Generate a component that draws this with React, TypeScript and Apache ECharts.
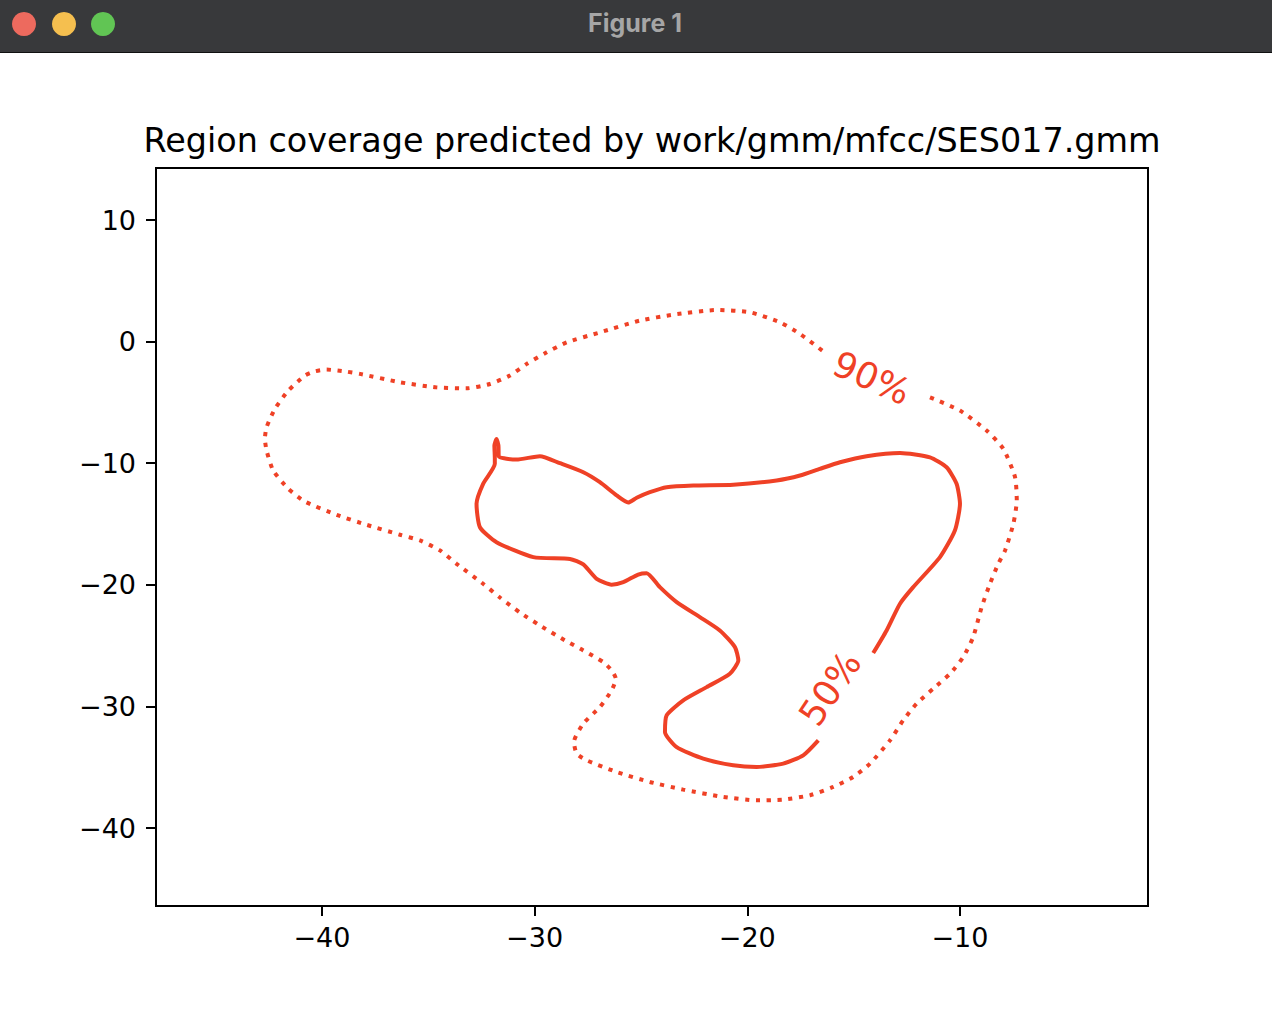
import { useEffect, useRef } from 'react';
import * as echarts from 'echarts';

// contour lines, in data units [x, y]
// 90% level (dotted), open at its label
const contour90: [number, number][] = [
  [-11.41, -4.58], [-10.0, -5.67], [-8.75, -7.31], [-7.96, -8.82], [-7.41, -11.15],
  [-7.33, -13.07], [-7.49, -14.98], [-7.88, -17.17], [-8.2, -18.27], [-8.59, -19.91],
  [-8.98, -21.83], [-9.38, -24.3], [-9.85, -25.94], [-10.47, -27.31], [-11.26, -28.54],
  [-12.04, -29.77], [-12.67, -31.14], [-13.29, -32.79], [-14.23, -34.7], [-15.02, -35.8],
  [-15.96, -36.62], [-17.05, -37.3], [-18.31, -37.66], [-19.56, -37.72], [-21.13, -37.44],
  [-23.01, -36.84], [-24.58, -36.21], [-26.14, -35.39], [-27.55, -34.43], [-28.02, -33.88],
  [-28.15, -32.93], [-27.71, -31.41], [-26.93, -30.05], [-26.38, -28.68], [-26.18, -27.72],
  [-26.38, -27.03], [-26.77, -26.35], [-27.71, -25.39], [-28.57, -24.57], [-29.75, -23.34],
  [-30.69, -22.27], [-31.63, -21.04], [-32.42, -19.91], [-33.67, -18.27], [-34.45, -17.17],
  [-35.39, -16.35], [-36.33, -15.88], [-37.9, -15.06], [-39.31, -14.24], [-40.8, -13.15],
  [-41.58, -12.1], [-42.29, -10.6], [-42.6, -8.96], [-42.68, -7.97], [-42.6, -7.04],
  [-42.21, -5.53], [-41.58, -4.03], [-40.8, -2.79], [-40.33, -2.44], [-39.78, -2.3],
  [-38.84, -2.47], [-38.21, -2.65], [-36.33, -3.34], [-34.61, -3.76], [-33.2, -3.84],
  [-32.1, -3.48], [-31.16, -2.79], [-30.37, -1.83], [-29.43, -0.88], [-28.49, -0.06],
  [-26.93, 0.76], [-25.05, 1.73], [-23.48, 2.22], [-21.44, 2.6], [-19.87, 2.41],
  [-18.46, 1.59], [-17.52, 0.63], [-16.27, -1.01],
];

// 50% level (solid), open at its label
const contour50: [number, number][] = [
  [-14.08, -25.61], [-13.45, -23.75], [-12.82, -21.55], [-12.21, -20.21], [-10.94, -17.72],
  [-10.24, -15.53], [-10.0, -13.34], [-10.16, -11.69], [-10.63, -10.33], [-11.41, -9.51],
  [-12.82, -9.15], [-14.39, -9.42], [-15.64, -9.92], [-16.59, -10.46], [-17.52, -11.01],
  [-18.62, -11.42], [-20.66, -11.77], [-22.54, -11.83], [-23.79, -11.97], [-24.58, -12.38],
  [-25.2, -12.84], [-25.6, -13.23], [-26.14, -12.65], [-26.93, -11.56], [-27.71, -10.74],
  [-28.81, -10.0], [-29.75, -9.42], [-30.85, -9.7], [-31.68, -9.45], [-31.7, -8.55],
  [-31.79, -8.01], [-31.89, -8.55], [-31.87, -9.61], [-31.87, -10.05], [-32.42, -11.69],
  [-32.73, -13.34], [-32.57, -15.26], [-31.79, -16.49], [-30.06, -17.72], [-28.34, -17.87],
  [-27.71, -18.32], [-27.08, -19.5], [-26.38, -19.99], [-25.83, -19.78], [-25.13, -19.15],
  [-24.73, -19.04], [-24.11, -20.19], [-23.32, -21.42], [-22.23, -22.65], [-21.29, -23.75],
  [-20.58, -25.12], [-20.42, -26.21], [-20.82, -27.31], [-21.91, -28.41], [-23.01, -29.5],
  [-23.79, -30.73], [-23.87, -32.1], [-23.32, -33.34], [-22.07, -34.29], [-20.66, -34.84],
  [-19.56, -34.98], [-18.31, -34.7], [-17.37, -34.02], [-16.66, -32.79],
];

// inline contour labels: position, text, rotation (deg)
const labelPos: [number, number][] = [[-14.15, -2.98], [-16.11, -28.54]];
const labelText = ['90%', '50%'];
const labelRotate = [-24, 56];

const xTicks = [-40, -30, -20, -10];
const yTicks = [10, 0, -10, -20, -30, -40];

const TITLE = 'Region coverage predicted by work/gmm/mfcc/SES017.gmm';
const RED = '#ef4126';
const FONT = '"DejaVu Sans", sans-serif';

const fmt = (v: number) => String(v).replace('-', '\u2212');

export default function App() {
  const chartRef = useRef<HTMLDivElement>(null);

  useEffect(() => {
    document.body.style.margin = '0';
    document.body.style.overflow = 'hidden';
    if (!chartRef.current) return;
    const chart = echarts.init(chartRef.current, undefined, { renderer: 'svg' });

    const axisCommon = {
      type: 'value' as const,
      axisLine: { show: false, onZero: false },
      splitLine: { show: false },
      axisTick: { show: true, length: 10, lineStyle: { color: '#000', width: 2 } },
      axisLabel: {
        color: '#000',
        fontFamily: FONT,
        fontSize: 27,
        formatter: fmt,
      },
    };

    const option: echarts.EChartsOption = {
      animation: false,
      backgroundColor: '#fff',
      grid: {
        left: 156,
        top: 168,
        width: 992,
        height: 738,
        show: true,
        borderColor: '#000',
        borderWidth: 2,
        containLabel: false,
      },
      xAxis: {
        ...axisCommon,
        min: -47.8,
        max: -1.16,
        axisTick: { ...axisCommon.axisTick, customValues: xTicks },
        axisLabel: { ...axisCommon.axisLabel, margin: 18, customValues: xTicks },
      } as any,
      yAxis: {
        ...axisCommon,
        min: -46.41,
        max: 14.28,
        axisTick: { ...axisCommon.axisTick, customValues: yTicks },
        axisLabel: { ...axisCommon.axisLabel, margin: 20, customValues: yTicks },
      } as any,
      graphic: [
        // window title bar
        { type: 'rect', shape: { x: 0, y: 0, width: 1272, height: 52 }, style: { fill: '#38393b' } },
        { type: 'line', shape: { x1: 0, y1: 52.5, x2: 1272, y2: 52.5 }, style: { stroke: '#111', lineWidth: 1 } },
        { type: 'circle', shape: { cx: 24, cy: 24, r: 12 }, style: { fill: '#ed6a5e' } },
        { type: 'circle', shape: { cx: 64, cy: 24, r: 12 }, style: { fill: '#f5bf4f' } },
        { type: 'circle', shape: { cx: 103, cy: 24, r: 12 }, style: { fill: '#61c554' } },
        {
          type: 'text',
          x: 635,
          y: 23,
          style: {
            text: 'Figure 1',
            fill: '#a6a6a6',
            font: 'bold 25px Inter, "Open Sans", sans-serif',
            textAlign: 'center',
            textVerticalAlign: 'middle',
          },
        },
        {
          type: 'text',
          x: 652,
          y: 140,
          style: {
            text: TITLE,
            fill: '#000',
            font: `33.4px ${FONT}`,
            textAlign: 'center',
            textVerticalAlign: 'middle',
          },
        },
      ],
      series: [
        {
          type: 'line',
          data: contour90,
          showSymbol: false,
          smooth: 0.2,
          lineStyle: { color: RED, width: 4, type: [4.2, 6.6], cap: 'butt' },
          emphasis: { disabled: true },
        },
        {
          type: 'line',
          data: contour50,
          showSymbol: false,
          smooth: 0.2,
          lineStyle: { color: RED, width: 4 },
          emphasis: { disabled: true },
        },
        ...labelPos.map((p, i) => ({
          type: 'scatter' as const,
          data: [p],
          symbolSize: 0,
          itemStyle: { opacity: 1, color: RED },
          label: {
            show: true,
            position: 'inside' as const,
            formatter: labelText[i],
            rotate: labelRotate[i],
            color: RED,
            opacity: 1,
            fontFamily: FONT,
            fontSize: 36,
          },
          emphasis: { disabled: true },
        })),
      ],
    };

    chart.setOption(option);

    return () => {
      chart.dispose();
    };
  }, []);

  return <div ref={chartRef} style={{ width: 1272, height: 1010 }} />;
}
